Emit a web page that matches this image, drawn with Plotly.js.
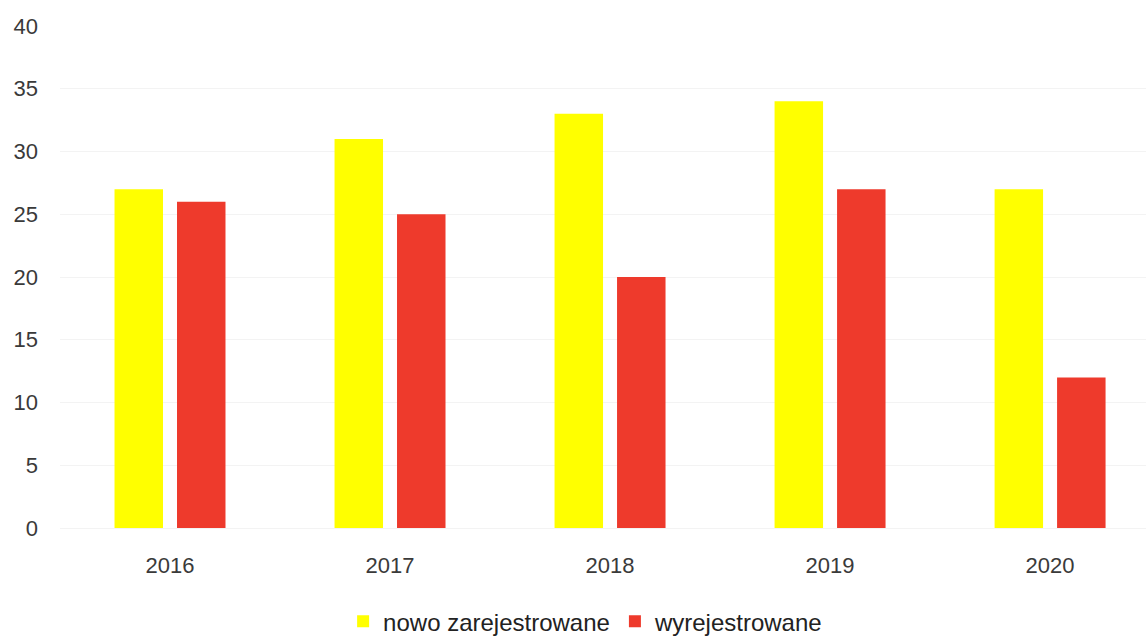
<!DOCTYPE html>
<html>
<head>
<meta charset="utf-8">
<script src="https://cdn.plot.ly/plotly-3.0.1.min.js"></script>
<style>
  html, body { margin: 0; padding: 0; background: #ffffff; }
  #chart { width: 1146px; height: 641px; }
</style>
</head>
<body>
<div id="chart"></div>
<script>
const years = ["2016", "2017", "2018", "2019", "2020"];
const nowoZarejestrowane = [27, 31, 33, 34, 27];
const wyrejestrowane = [26, 25, 20, 27, 12];
const yTicks = [0, 5, 10, 15, 20, 25, 30, 35, 40];
const seriesNames = ["nowo zarejestrowane", "wyrejestrowane"];

const traces = [
  {
    type: "bar",
    name: seriesNames[0],
    x: years,
    y: nowoZarejestrowane,
    marker: { color: "#ffff00" },
    hoverinfo: "x+y+name"
  },
  {
    type: "bar",
    name: seriesNames[1],
    x: years,
    y: wyrejestrowane,
    marker: { color: "#ee3a2c" },
    hoverinfo: "x+y+name"
  }
];

const layout = {
  width: 1146,
  height: 641,
  margin: { l: 60, r: 0, t: 26, b: 113, autoexpand: false },
  paper_bgcolor: "#ffffff",
  plot_bgcolor: "#ffffff",
  font: { family: "Liberation Sans, Arial, sans-serif", size: 22, color: "#3a3a3a" },
  barmode: "group",
  bargap: 0.432,
  bargroupgap: 0.224,
  showlegend: true,
  legend: {
    orientation: "h",
    x: 0.484,
    xanchor: "center",
    yref: "container",
    y: 0.03,
    yanchor: "middle",
    font: { size: 24, color: "#222222" },
    itemclick: false,
    itemdoubleclick: false
  },
  xaxis: {
    type: "category",
    range: [-0.5, 4.436],
    automargin: false,
    showgrid: false,
    zeroline: false,
    showline: false,
    ticks: "",
    ticklabelstandoff: 22,
    tickfont: { size: 22, color: "#3a3a3a" }
  },
  yaxis: {
    range: [0, 40],
    automargin: false,
    tickvals: yTicks,
    ticktext: yTicks.map(String),
    showgrid: true,
    gridcolor: "#f3f3f3",
    gridwidth: 1,
    zeroline: true,
    zerolinecolor: "#f3f3f3",
    showline: false,
    ticks: "",
    ticklabelstandoff: 21,
    tickfont: { size: 22, color: "#3a3a3a" }
  }
};

Plotly.newPlot("chart", traces, layout, { displayModeBar: false, responsive: false });
</script>
</body>
</html>
